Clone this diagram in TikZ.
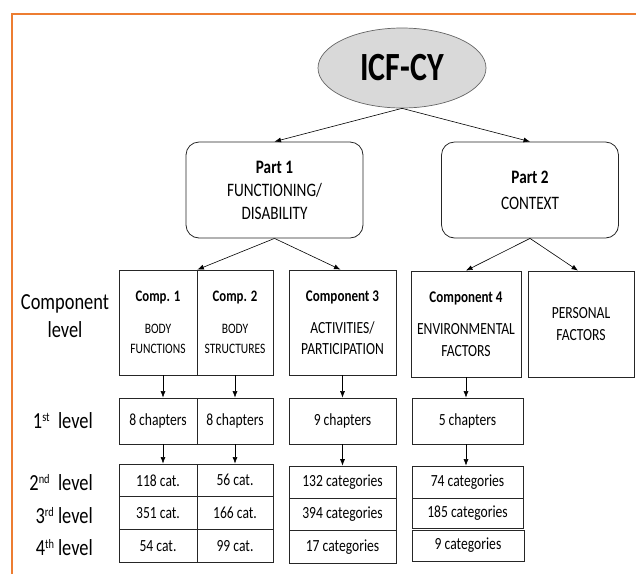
\documentclass[tikz,border=0pt]{standalone}
\usepackage{fontspec}
\setmainfont{Carlito}[FakeStretch=0.8]
\usetikzlibrary{shapes.geometric,arrows.meta}
\definecolor{frameorange}{RGB}{237,125,49}
\definecolor{ellgray}{RGB}{217,217,217}
\newcommand{\fs}[2]{\fontsize{#1}{#2}\selectfont}
\newcommand{\ordsup}[1]{\raisebox{7pt}{\fs{13}{13}#1}}
\begin{document}
\begin{tikzpicture}[x=1pt,y=-1pt,
  box/.style={draw=black!85, line width=0.8pt, align=center, inner sep=0pt, text=black},
  partbox/.style={box, rounded corners=13pt, minimum width=177pt, minimum height=96pt, font=\fs{19}{23}},
  compbox/.style={box, minimum height=105pt},
  cell/.style={box, font=\fs{17}{20}},
  lvl/.style={align=center, font=\fs{23}{28}, inner sep=0pt},
  arr/.style={-{Latex[length=6.5pt,width=5pt]}, line width=0.6pt}
]
\useasboundingbox (0,0) rectangle (636,574);

% frame
\draw[frameorange, line width=2pt] (12,574) -- (12,14) -- (636,14);

% root
\node[ellipse, draw=black!60, line width=0.7pt, fill=ellgray, minimum width=168pt, minimum height=80pt,
      inner sep=0pt, font=\fs{40}{44}\bfseries] (icf) at (402,68) {ICF-CY};

% parts
\node[partbox] (p1) at (274.5,190) {\textbf{Part 1}\\FUNCTIONING/\\DISABILITY};
\node[partbox] (p2) at (530,190) {\textbf{Part 2}\\[3pt]CONTEXT};

% components
\node[compbox, minimum width=78pt, font=\fs{14.4}{20}] (c1) at (158,322.5)
  {{\fs{16}{20}\bfseries Comp. 1}\\[12pt]BODY\\FUNCTIONS};
\node[compbox, minimum width=76pt, font=\fs{14.4}{20}] (c2) at (235,322.5)
  {{\fs{16}{20}\bfseries Comp. 2}\\[12pt]BODY\\STRUCTURES};
\node[compbox, minimum width=107pt, font=\fs{17}{21}] (c3) at (342.5,322.5)
  {{\fs{16.3}{21}\bfseries Component 3}\\[11pt]ACTIVITIES/\\PARTICIPATION};
\node[compbox, minimum width=110pt, minimum height=106pt, font=\fs{17}{22}] (c4) at (466,324)
  {{\fs{16.3}{22}\bfseries Component 4}\\[10pt]ENVIRONMENTAL\\FACTORS};
\node[compbox, minimum width=106pt, minimum height=106pt, font=\fs{17}{22}] (pf) at (581,324)
  {PERSONAL\\FACTORS};

% 1st level
\node[cell, minimum width=78pt, minimum height=46pt] (h1) at (158,421) {8 chapters};
\node[cell, minimum width=76pt, minimum height=46pt] (h2) at (235,421) {8 chapters};
\node[cell, minimum width=107pt, minimum height=46pt] (h3) at (342.5,421) {9 chapters};
\node[cell, minimum width=111pt, minimum height=46pt] (h4) at (467.5,421) {5 chapters};

% 2nd-4th levels
\node[cell, minimum width=78pt, minimum height=32.7pt] (a1) at (158,480.3) {118 cat.};
\node[cell, minimum width=78pt, minimum height=32.7pt] (a2) at (158,513) {351 cat.};
\node[cell, minimum width=78pt, minimum height=32.7pt] (a3) at (158,545.7) {54 cat.};
\node[cell, minimum width=76pt, minimum height=32.7pt] (b1) at (235,480.3) {56 cat.};
\node[cell, minimum width=76pt, minimum height=32.7pt] (b2) at (235,513) {166 cat.};
\node[cell, minimum width=76pt, minimum height=32.7pt] (b3) at (235,545.7) {99 cat.};
\node[cell, minimum width=107pt, minimum height=32.3pt] (d1) at (342.5,482.2) {132 categories};
\node[cell, minimum width=107pt, minimum height=32.3pt] (d2) at (342.5,514.5) {394 categories};
\node[cell, minimum width=107pt, minimum height=32.3pt] (d3) at (342.5,546.8) {17 categories};
\node[cell, minimum width=111pt, minimum height=32pt] (e1) at (467.5,482) {74 categories};
\node[cell, minimum width=111pt, minimum height=30pt] (e2) at (467.5,513) {185 categories};
\node[cell, minimum width=112pt, minimum height=31pt] (e3) at (468,545.5) {9 categories};

% level labels
\node[lvl] (lc) at (65,316) {Component\\level};
\node[lvl, anchor=east] (l1) at (93,421) {1\ordsup{st}\ \ level};
\node[lvl, anchor=east] (l2) at (93,483) {2\ordsup{nd}\ \ level};
\node[lvl, anchor=east] (l3) at (93,516) {3\ordsup{rd} level};
\node[lvl, anchor=east] (l4) at (93,548) {4\ordsup{th}\,level};

% connectors
\draw[arr] (icf.south) -- (p1.north);
\draw[arr] (icf.south) -- (p2.north);
\draw[arr] (p1.south) -- (c1.north east);
\draw[arr] (p1.south) -- ([xshift=-2pt]c3.north);
\draw[arr] (p2.south) -- (c4.north);
\draw[arr] (p2.south) -- ([xshift=-3pt]pf.north);
\draw[arr] ([xshift=5pt]c1.south) -- ([xshift=5pt]h1.north);
\draw[arr] (c2.south) -- (h2.north);
\draw[arr] (c3.south) -- (h3.north);
\draw[arr] (c4.south) -- (h4.north -| c4.south);
\draw[arr] ([xshift=5pt]h1.south) -- ([xshift=5pt]a1.north);
\draw[arr] (h2.south) -- (b1.north);
\draw[arr] (h3.south) -- (d1.north);
\draw[arr] (h4.south -| c4.south) -- (e1.north -| c4.south);
\end{tikzpicture}
\end{document}
